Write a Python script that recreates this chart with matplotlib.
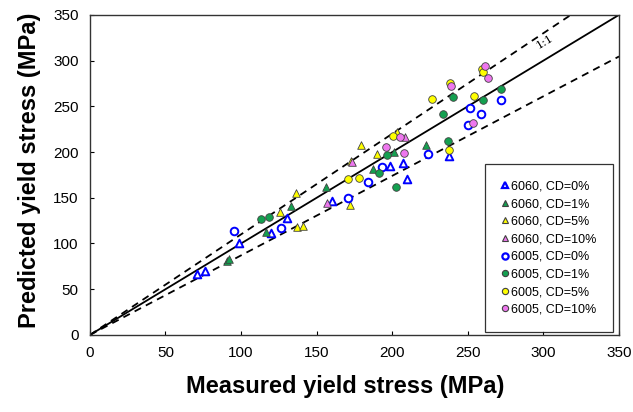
import matplotlib
matplotlib.use("Agg")
import matplotlib.pyplot as plt
import numpy as np
from matplotlib.lines import Line2D

plt.rcParams['font.family'] = ['Liberation Sans', 'DejaVu Sans']

# Measured vs predicted yield stress (MPa)
al6060_cd0_x = [70.6, 76.0, 98.8, 119.6, 130.6, 160.0, 198.5, 207.0, 209.6, 237.5]
al6060_cd0_y = [66.7, 70.4, 100.3, 112.0, 128.4, 147.0, 185.0, 187.9, 170.3, 196.0]

al6060_cd1_x = [90.5, 92.2, 116.5, 133.2, 156.0, 187.1, 201.2, 222.4]
al6060_cd1_y = [81.0, 82.5, 113.0, 141.0, 161.6, 181.3, 200.5, 207.7]

al6060_cd5_x = [125.7, 136.3, 137.2, 141.2, 172.3, 179.4, 172.5, 190.0, 203.0]
al6060_cd5_y = [134.6, 155.0, 118.0, 119.3, 142.2, 207.9, 190.7, 198.0, 222.4]

al6060_cd10_x = [157.0, 173.2, 208.5]
al6060_cd10_y = [144.8, 188.9, 216.0]

al6005_cd0_x = [95.5, 126.6, 171.0, 184.2, 193.0, 223.9, 250.4, 251.5, 258.6, 271.8]
al6005_cd0_y = [113.8, 116.7, 149.5, 167.7, 184.0, 198.0, 229.8, 248.0, 241.5, 257.0]

al6005_cd1_x = [113.2, 118.3, 191.3, 196.3, 202.5, 233.8, 237.1, 240.4, 260.0, 271.8]
al6005_cd1_y = [127.3, 129.5, 177.6, 197.0, 161.6, 241.5, 212.0, 260.7, 257.0, 269.0]

al6005_cd5_x = [171.0, 177.8, 200.7, 226.5, 237.8, 237.9, 254.3, 259.2, 260.3]
al6005_cd5_y = [170.7, 172.1, 217.7, 258.2, 202.0, 276.0, 261.5, 290.7, 287.0]

al6005_cd10_x = [195.9, 205.2, 207.8, 238.7, 253.3, 261.6, 263.0]
al6005_cd10_y = [205.3, 216.3, 198.5, 272.7, 231.6, 294.3, 280.4]

series_labels = ["6060, CD=0%", "6060, CD=1%", "6060, CD=5%", "6060, CD=10%",
                 "6005, CD=0%", "6005, CD=1%", "6005, CD=5%", "6005, CD=10%"]

ticks = [0, 50, 100, 150, 200, 250, 300, 350]
bound_hi = 1.1
bound_lo = 0.87

blue = '#0000ff'
green = '#14a050'
yellow = '#ffff00'
pink = '#ee77ee'
edge = '#404040'

fig = plt.figure(figsize=(6.33, 4.12), dpi=100)
ax = fig.add_axes([0.142, 0.187, 0.836, 0.777])

xs = np.array([0, 350])
ax.plot(xs, xs, color='black', lw=1.3, zorder=2)
ax.plot(xs, bound_hi * xs, color='black', lw=1.3, ls=(0, (4, 3)), zorder=2)
ax.plot(xs, bound_lo * xs, color='black', lw=1.3, ls=(0, (4, 3)), zorder=2)

styles = [
    (al6060_cd0_x, al6060_cd0_y, '^', 'white', blue, 1.4),
    (al6060_cd1_x, al6060_cd1_y, '^', green, edge, 0.6),
    (al6060_cd5_x, al6060_cd5_y, '^', yellow, edge, 0.6),
    (al6060_cd10_x, al6060_cd10_y, '^', pink, edge, 0.6),
    (al6005_cd0_x, al6005_cd0_y, 'o', 'white', blue, 1.4),
    (al6005_cd1_x, al6005_cd1_y, 'o', green, edge, 0.6),
    (al6005_cd5_x, al6005_cd5_y, 'o', yellow, edge, 0.6),
    (al6005_cd10_x, al6005_cd10_y, 'o', pink, edge, 0.6),
]
handles = []
for (x, y, m, fc, ec, lw), lab in zip(styles, series_labels):
    ax.scatter(x, y, marker=m, s=30, facecolor=fc, edgecolor=ec, linewidths=lw, zorder=3)
    handles.append(Line2D([], [], ls='none', marker=m, markersize=4.5,
                          markerfacecolor=fc, markeredgecolor=ec,
                          markeredgewidth=lw + 0.2, label=lab))

ax.text(301, 321, "1:1", rotation=31, fontsize=8, family='DejaVu Serif',
        ha='center', va='center', zorder=4)

ax.set_xlim(0, 350)
ax.set_ylim(0, 350)
ax.set_xticks(ticks)
ax.set_yticks(ticks)
ax.tick_params(direction='in', length=3, labelsize=11, pad=8, width=0.8)
for sp in ax.spines.values():
    sp.set_linewidth(1.0)
    sp.set_color('#333333')

ax.set_xlabel("Measured yield stress (MPa)", fontsize=17, fontweight='bold')
ax.set_ylabel("Predicted yield stress (MPa)", fontsize=17, fontweight='bold')
ax.xaxis.set_label_coords(0.482, -0.124)
ax.yaxis.set_label_coords(-0.092, 0.513)

leg = ax.legend(handles=handles, loc='lower right', fontsize=9, frameon=True,
                fancybox=False, edgecolor='black', handlelength=0.6,
                handletextpad=0.25, labelspacing=0.45, borderpad=1.3,
                borderaxespad=0, bbox_to_anchor=(0.9887, 0.009))
leg.get_frame().set_linewidth(0.9)

fig.savefig("out.png", dpi=100)
